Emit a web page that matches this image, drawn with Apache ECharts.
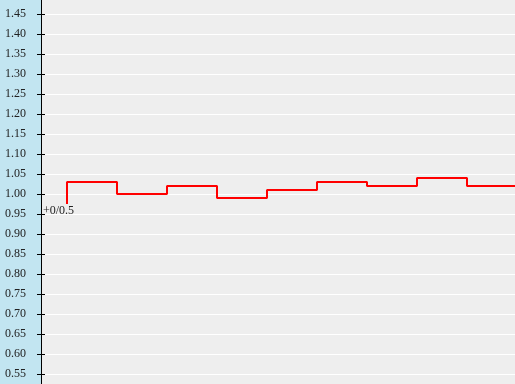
<!DOCTYPE html>
<html>
<head>
<meta charset="utf-8">
<script src="https://cdn.jsdelivr.net/npm/echarts@6/dist/echarts.min.js"></script>
<style>
html,body{margin:0;padding:0;background:#c2e5f1;overflow:hidden;width:515px;height:384px;}
#c{position:absolute;left:0;top:-6px;width:515px;height:400px;}
</style>
</head>
<body>
<div id="c"></div>
<script>
var xValues = [0, 1, 2, 3, 4, 5, 6, 7, 8, 9];
var yValues = [0.975, 1.03, 1.00, 1.02, 0.99, 1.01, 1.03, 1.02, 1.04, 1.02];
var startLabel = '+0/0.5';
var yMin = 0.5, yMax = 1.5, yStep = 0.05;

var chart = echarts.init(document.getElementById('c'), null, {renderer: 'canvas'});
var data = xValues.map(function (x, i) { return [x, yValues[i]]; });
var labelStyle = {fontFamily: '"Liberation Serif", "Times New Roman", serif', fontSize: 12, color: '#222'};

chart.setOption({
  animation: false,
  backgroundColor: 'transparent',
  grid: {left: 41, right: 0, top: 0, bottom: 0, show: true, backgroundColor: '#eeeeee', borderWidth: 0, containLabel: false, outerBoundsMode: 'none'},
  xAxis: {type: 'value', min: -0.52, max: 8.96, show: false},
  yAxis: [{
    type: 'value', min: yMin, max: yMax, interval: yStep,
    axisLine: {show: true, onZero: false, lineStyle: {color: '#000', width: 1}},
    axisTick: {show: true, length: 4, lineStyle: {color: '#000'}},
    axisLabel: Object.assign({margin: 15, padding: [0, 0, 6, 0], formatter: function (v) { return v.toFixed(2); }}, labelStyle),
    splitLine: {show: true, lineStyle: {color: '#ffffff', width: 1}}
  }, {
    type: 'value', min: yMin, max: yMax, interval: yStep, position: 'left', offset: 0,
    axisLine: {show: false, onZero: false},
    axisTick: {show: true, inside: true, length: 4, lineStyle: {color: '#000'}},
    axisLabel: {show: false},
    splitLine: {show: false}
  }],
  series: [{
    type: 'line', step: 'start', data: data, showSymbol: false, symbol: 'none',
    lineStyle: {color: '#ff0000', width: 2},
    clip: true,
    markPoint: {
      symbol: 'circle', symbolSize: 0,
      data: [{coord: data[0], value: startLabel}],
      label: Object.assign({show: true, position: [-24, 1], align: 'left', verticalAlign: 'top', formatter: startLabel}, labelStyle)
    }
  }]
});
</script>
</body>
</html>
